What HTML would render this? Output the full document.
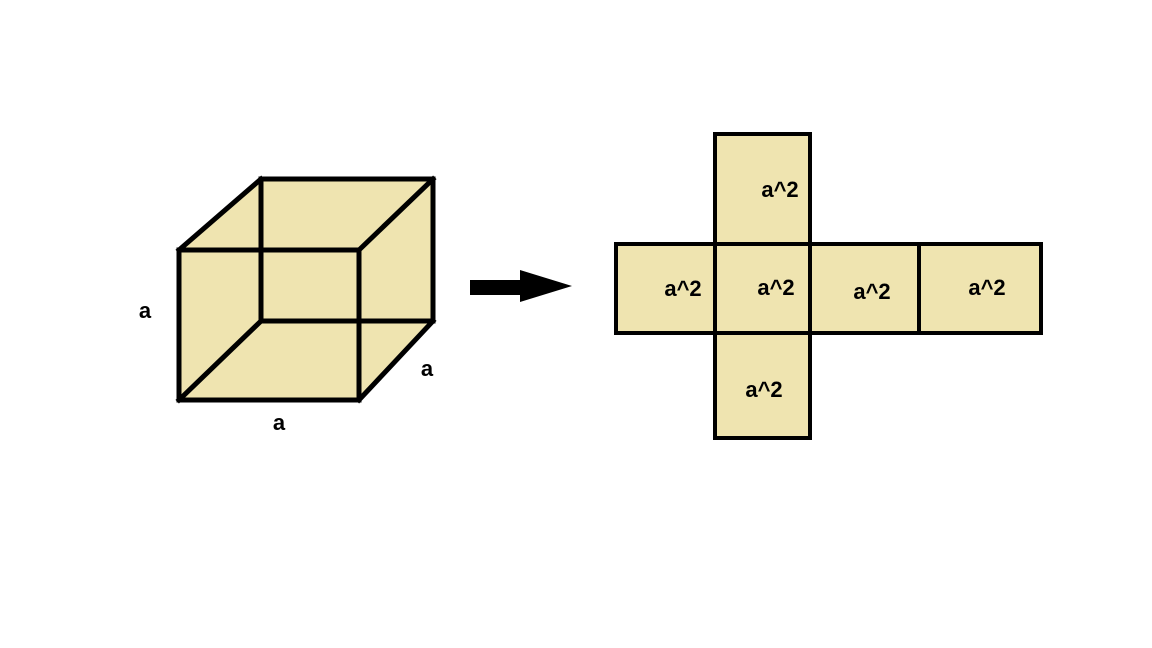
<!DOCTYPE html>
<html><head><style>html,body{margin:0;padding:0;background:#fff;}svg{display:block;}</style></head>
<body>
<svg width="1152" height="648" viewBox="0 0 1152 648" xmlns="http://www.w3.org/2000/svg">
<polygon points="179,250 261,179 433,179 433,321 359,400 179,400" fill="#EFE4B0"/>
<g fill="none" stroke="#000" stroke-width="5" stroke-linecap="square">
  <rect x="261" y="179" width="172" height="142"/>
  <rect x="179" y="250" width="180" height="150"/>
  <line x1="179" y1="250" x2="261" y2="179"/>
  <line x1="359" y1="250" x2="433" y2="179"/>
  <line x1="179" y1="400" x2="261" y2="321"/>
  <line x1="359" y1="400" x2="433" y2="321"/>
</g>
<g fill="#EFE4B0" stroke="#000" stroke-width="4">
  <rect x="715" y="134" width="95" height="110"/>
  <rect x="715" y="333" width="95" height="105"/>
  <rect x="616" y="244" width="425" height="89"/>
  <line x1="715" y1="244" x2="715" y2="333"/>
  <line x1="810" y1="244" x2="810" y2="333"/>
  <line x1="919" y1="244" x2="919" y2="333"/>
</g>
<rect x="470" y="280" width="52" height="15" fill="#000"/>
<polygon points="520,270 572,286 520,302" fill="#000"/>
<g font-family="Liberation Sans, sans-serif" font-weight="bold" font-size="22" fill="#000" text-anchor="middle">
  <text x="145" y="318">a</text>
  <text x="427" y="376">a</text>
  <text x="279" y="430">a</text>
  <text x="780" y="197">a^2</text>
  <text x="683" y="296">a^2</text>
  <text x="776" y="295">a^2</text>
  <text x="872" y="299">a^2</text>
  <text x="987" y="295">a^2</text>
  <text x="764" y="397">a^2</text>
</g>
</svg>
</body></html>
